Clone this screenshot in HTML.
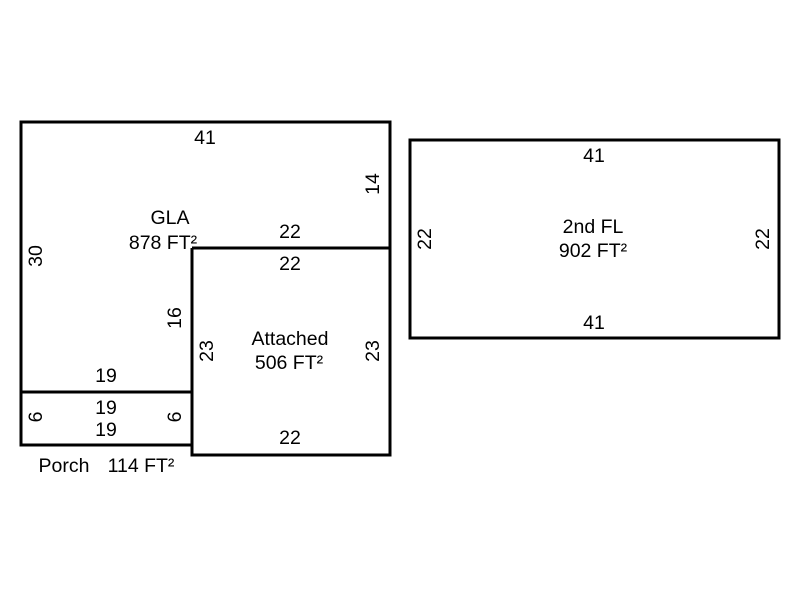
<!DOCTYPE html>
<html><head><style>body{margin:0;background:#fff}</style></head><body>
<svg width="800" height="600" xmlns="http://www.w3.org/2000/svg" font-family="Liberation Sans, Arial, sans-serif" font-size="19.5" fill="#000">
<g stroke="#000" stroke-width="3" fill="none">
<polyline points="390,248 390,122 21,122 21,445 192,445"/>
<line x1="192" y1="248" x2="390" y2="248"/>
<polyline points="192,248 192,455 390,455 390,248"/>
<line x1="21" y1="392" x2="192" y2="392"/>
<rect x="410" y="140" width="369" height="198"/>
</g>
<g text-anchor="middle">
<text x="205" y="144">41</text>
<text x="170" y="224">GLA</text>
<text x="163" y="249">878 FT²</text>
<text x="290" y="238">22</text>
<text x="290" y="270">22</text>
<text x="290" y="345">Attached</text>
<text x="289" y="369">506 FT²</text>
<text x="290" y="444">22</text>
<text x="106" y="382">19</text>
<text x="106" y="414">19</text>
<text x="106" y="436">19</text>
<text x="64" y="472">Porch</text>
<text x="141" y="472">114 FT²</text>
<text x="594" y="162">41</text>
<text x="593" y="233">2nd FL</text>
<text x="593" y="257">902 FT²</text>
<text x="594" y="329">41</text>
<text transform="translate(42,256) rotate(-90)">30</text>
<text transform="translate(379,184) rotate(-90)">14</text>
<text transform="translate(181,318) rotate(-90)">16</text>
<text transform="translate(213,351) rotate(-90)">23</text>
<text transform="translate(379,351) rotate(-90)">23</text>
<text transform="translate(42,417) rotate(-90)">6</text>
<text transform="translate(181,417) rotate(-90)">6</text>
<text transform="translate(431,239) rotate(-90)">22</text>
<text transform="translate(769,239) rotate(-90)">22</text>
</g>
</svg>
</body></html>
